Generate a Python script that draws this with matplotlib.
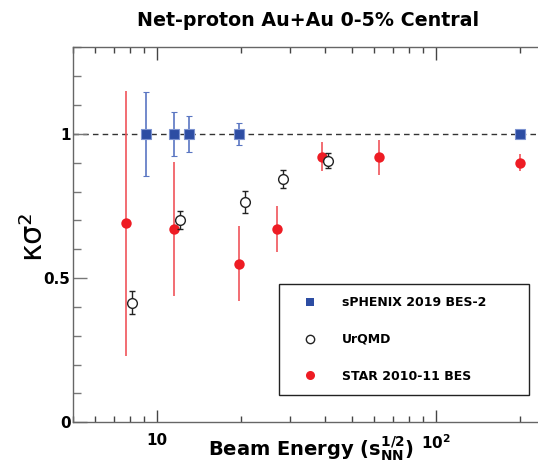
import matplotlib
matplotlib.use("Agg")

import matplotlib.pyplot as plt
from matplotlib.lines import Line2D
from matplotlib.ticker import LogLocator, NullFormatter, MultipleLocator

plt.rcParams["font.family"] = ["DejaVu Sans"]
plt.rcParams["font.weight"] = "bold"
plt.rcParams["mathtext.fontset"] = "custom"
plt.rcParams["mathtext.rm"] = "DejaVu Sans:bold"
plt.rcParams["mathtext.it"] = "DejaVu Sans:bold"
plt.rcParams["mathtext.bf"] = "DejaVu Sans:bold"

# sPHENIX 2019 BES-2 projection
sphenix_e = [9.1, 11.5, 13.0, 19.6, 200.0]
sphenix_k = [1.0, 1.0, 1.0, 1.0, 1.0]
sphenix_err = [0.145, 0.077, 0.063, 0.037, 0.0]

# UrQMD
urqmd_e = [8.1, 12.1, 20.6, 28.4, 41.0]
urqmd_k = [0.414, 0.701, 0.765, 0.843, 0.907]
urqmd_err = [0.040, 0.031, 0.038, 0.032, 0.025]

# STAR 2010-11 BES
star_e = [7.7, 11.5, 19.6, 27.0, 39.0, 62.4, 200.0]
star_k = [0.690, 0.670, 0.550, 0.670, 0.921, 0.919, 0.900]
star_err = [0.460, 0.232, 0.130, 0.080, 0.050, 0.060, 0.030]

blue = "#2d4da3"
blue_err = "#5a76c2"
red = "#ee1c24"
red_err = "#f0545a"

fig = plt.figure(figsize=(5.38, 4.73), dpi=100)
ax = fig.add_axes([73.3 / 538, 50.7 / 473, 1 - 73.3 / 538, 375 / 473])

ax.axhline(1.0, color="#333333", lw=1.0, ls=(0, (4, 3)), zorder=1)

ax.errorbar(star_e, star_k, yerr=star_err, fmt="o", color=red, ecolor=red_err,
            elinewidth=1.2, capsize=2.5, capthick=1.0, markersize=7.5,
            markeredgewidth=0, zorder=3)
ax.errorbar(sphenix_e, sphenix_k, yerr=sphenix_err, fmt="s", color=blue,
            ecolor=blue_err, elinewidth=1.2, capsize=2.5, capthick=1.0,
            markersize=6.5, markeredgecolor="#7d93d0", markeredgewidth=0.8,
            zorder=4)
ax.errorbar(urqmd_e, urqmd_k, yerr=urqmd_err, fmt="o", color="#222222",
            mfc="white", mec="#222222", elinewidth=1.0, capsize=2.5,
            capthick=1.0, markersize=7, markeredgewidth=1.0, zorder=5)

ax.set_xscale("log")
ax.set_xlim(5.0, 233)
ax.set_ylim(0, 1.3)

ax.set_xticks([10, 100], ["10", "10$^{2}$"])
ax.xaxis.set_minor_locator(LogLocator(base=10, subs=range(2, 10)))
ax.xaxis.set_minor_formatter(NullFormatter())
ax.set_yticks([0, 0.5, 1], ["0", "0.5", "1"])
ax.yaxis.set_minor_locator(MultipleLocator(0.1))

for s in ["left", "bottom", "top"]:
    ax.spines[s].set_color("#666666")
    ax.spines[s].set_linewidth(1.0)
ax.spines["right"].set_visible(False)

ax.tick_params(axis="x", which="major", direction="in", top=True, length=9,
               width=1, color="#444444", labelsize=11, pad=8)
ax.tick_params(axis="x", which="minor", direction="in", top=True, length=4.5,
               width=1, color="#444444")
ax.tick_params(axis="y", which="major", direction="in", length=10, width=1,
               color="#777777", labelsize=11, pad=2)
ax.tick_params(axis="y", which="minor", direction="in", length=5.5, width=1,
               color="#777777")

ax.set_xlabel(r"Beam Energy (s$_{NN}^{1/2}$)", fontsize=14, fontweight="bold")
ax.xaxis.set_label_coords((311 - 73.3) / (538 - 73.3), -0.035)

fig.text(31 / 538, (473 - 234) / 473, "κσ²", rotation=90, fontsize=22,
         fontweight="normal", ha="center", va="center")

fig.text(308 / 538, (473 - 26.5) / 473, "Net-proton Au+Au 0-5% Central",
         fontsize=13.7, fontweight="bold", ha="center", va="baseline")

handles = [
    Line2D([], [], ls="none", marker="s", color=blue, markersize=6,
           markeredgewidth=0),
    Line2D([], [], ls="none", marker="o", mfc="white", mec="#222222",
           markersize=6, markeredgewidth=1.0),
    Line2D([], [], ls="none", marker="o", color=red, markersize=6.5,
           markeredgewidth=0),
]
labels = ["sPHENIX 2019 BES-2", "UrQMD", "STAR 2010-11 BES"]

x0 = (279 - 73.3) / (538 - 73.3)
x1 = (529 - 73.3) / (538 - 73.3)
y1 = (422.3 - 284) / 375
leg = ax.legend(handles, labels, loc="upper left",
                bbox_to_anchor=(x0, y1, x1 - x0, 0), mode="expand",
                prop={"size": 9, "weight": "bold"}, frameon=True,
                fancybox=False, edgecolor="#222222", framealpha=1,
                borderpad=1.0, handlelength=3.0, handletextpad=1.0,
                labelspacing=1.88, borderaxespad=0)
leg.get_frame().set_linewidth(1.0)

fig.savefig("out.png", dpi=100)
